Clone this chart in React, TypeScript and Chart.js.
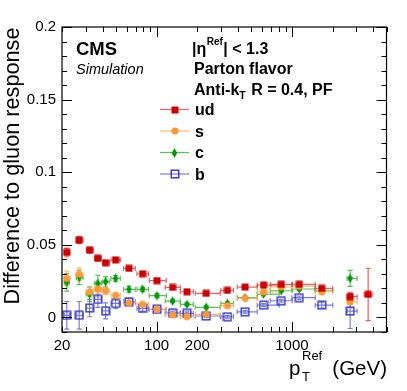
import React, { useEffect, useRef } from "react";
import { Chart, registerables } from "chart.js";
Chart.register(...registerables);

// ---------- data ----------
const pT = [21.7, 26.8, 32.0, 36.8, 42.0, 49.8, 62.5, 78.8, 100.7, 131.3, 167.6, 232.6, 334, 451, 617, 834, 1132, 1660, 2692, 3658];
const pTLow = [20.8, 25.5, 30.2, 34.8, 39.7, 46.0, 57.0, 71.6, 88.3, 115.8, 149.6, 193, 298.6, 394, 554, 692, 1000, 1486, 2560, 3418];
const pTHigh = [22.7, 28.6, 33.9, 39.0, 44.7, 53.9, 69.6, 87.2, 117.8, 149.6, 186.7, 295, 370, 554, 805, 1005, 1486, 2003, 3033, 3918];

const udValues = [0.0448, 0.0533, 0.0464, 0.0407, 0.0377, 0.0397, 0.0338, 0.0301, 0.0254, 0.0207, 0.0177, 0.0166, 0.0187, 0.0209, 0.0223, 0.0228, 0.0228, 0.0200, 0.0143, 0.0159];
const udErrors = [0.003, 0.0025, 0.002, 0.0015, 0.0015, 0.0012, 0.001, 0.001, 0.001, 0.001, 0.001, 0.001, 0.001, 0.001, 0.001, 0.001, 0.001, 0.0015, 0.003, 0.018];

const sValues = [0.0269, 0.0297, 0.0177, 0.0196, 0.0184, 0.0152, 0.0100, 0.0090, 0.0056, 0.0017, 0.0005, 0.0021, 0.0081, 0.0132, 0.0177, 0.0211, 0.0216, 0.0177, 0.0108];
const sErrors = [0.005, 0.0045, 0.003, 0.003, 0.0025, 0.002, 0.0015, 0.0012, 0.001, 0.001, 0.001, 0.001, 0.001, 0.001, 0.001, 0.001, 0.001, 0.0015, 0.002];

const cValues = [0.0242, 0.0276, 0.0161, 0.0235, 0.0246, 0.0269, 0.0194, 0.0194, 0.0150, 0.0113, 0.0090, 0.0070, 0.0097, 0.0136, 0.0161, 0.0184, 0.0196, 0.0184, 0.0269];
const cErrors = [0.006, 0.005, 0.005, 0.0055, 0.0035, 0.002, 0.002, 0.0015, 0.0012, 0.001, 0.001, 0.001, 0.001, 0.001, 0.001, 0.001, 0.001, 0.0015, 0.0055];

const bValues = [0.0015, 0.0015, 0.0065, 0.0125, 0.0046, 0.0097, 0.0108, 0.0062, 0.0056, 0.0032, 0.0028, 0.0010, 0.0005, 0.0039, 0.0085, 0.0115, 0.0136, 0.0085, 0.0044];
const bErrors = [0.0095, 0.0095, 0.006, 0.0055, 0.0055, 0.0035, 0.0025, 0.002, 0.0015, 0.0012, 0.001, 0.001, 0.001, 0.001, 0.001, 0.001, 0.0012, 0.002, 0.012];

const seriesNames = ["ud", "s", "c", "b"];
const xTickValues = [20, 30, 40, 50, 60, 70, 80, 90, 100, 200, 300, 400, 500, 600, 700, 800, 900, 1000, 2000, 3000, 4000, 5000];
const xTickLabels = [20, 100, 200, 1000];
const xMajor = [100, 1000];
const yTickValues = [0, 0.05, 0.1, 0.15, 0.2];
const yTickLabels = ["0", "0.05", "0.1", "0.15", "0.2"];

const FONT = '"Liberation Sans", Arial, Helvetica, sans-serif';

type Kind = "square" | "circle" | "diamond" | "open";

function makeMarker(kind: Kind, color: string): HTMLCanvasElement {
  const c = document.createElement("canvas");
  const w = kind === "diamond" ? 7 : kind === "open" ? 10 : 8;
  const h = kind === "diamond" ? 10 : kind === "open" ? 10 : 8;
  c.width = w;
  c.height = h;
  const g = c.getContext("2d")!;
  g.fillStyle = color;
  g.strokeStyle = color;
  if (kind === "square") {
    g.fillRect(0.5, 0.5, 7, 7);
  } else if (kind === "circle") {
    g.beginPath();
    g.arc(4, 4, 3.6, 0, Math.PI * 2);
    g.fill();
  } else if (kind === "diamond") {
    g.beginPath();
    g.moveTo(3.5, 0.3);
    g.lineTo(6.3, 5);
    g.lineTo(3.5, 9.7);
    g.lineTo(0.7, 5);
    g.closePath();
    g.fill();
  } else {
    g.lineWidth = 1.4;
    g.strokeRect(1.2, 1.2, 7.6, 7.6);
  }
  return c;
}

const styles = [
  { kind: "square" as Kind, marker: "#cc0000", line: "rgba(222,60,60,0.8)" },
  { kind: "circle" as Kind, marker: "#ff9933", line: "rgba(255,170,80,0.8)" },
  { kind: "diamond" as Kind, marker: "#009900", line: "rgba(50,175,50,0.8)" },
  { kind: "open" as Kind, marker: "#3333cc", line: "rgba(90,90,225,0.8)" },
];

export default function App() {
  const ref = useRef<HTMLCanvasElement | null>(null);

  useEffect(() => {
    const canvas = ref.current!;
    const allValues = [udValues, sValues, cValues, bValues];
    const allErrors = [udErrors, sErrors, cErrors, bErrors];
    const markers = styles.map((s) => makeMarker(s.kind, s.marker));

    const datasets = allValues.map((vals, k) => ({
      label: seriesNames[k],
      data: vals.map((v, i) => ({ x: pT[i], y: v })),
      pointStyle: markers[k],
      pointRadius: 4,
      showLine: false,
      order: k,
      backgroundColor: styles[k].marker,
      borderColor: styles[k].marker,
    }));

    const rootPlugin = {
      id: "rootStyle",
      beforeDatasetsDraw(chart: any) {
        const ctx = chart.ctx as CanvasRenderingContext2D;
        const xs = chart.scales.x;
        const ys = chart.scales.y;
        const ca = chart.chartArea;
        ctx.save();
        ctx.beginPath();
        ctx.rect(ca.left, ca.top, ca.right - ca.left, ca.bottom - ca.top);
        ctx.clip();
        ctx.lineWidth = 1.2;
        for (let k = allValues.length - 1; k >= 0; k--) {
          const vals = allValues[k];
          const errs = allErrors[k];
          ctx.strokeStyle = styles[k].line;
          for (let i = 0; i < vals.length; i++) {
            const x = xs.getPixelForValue(pT[i]);
            const y = ys.getPixelForValue(vals[i]);
            const xl = xs.getPixelForValue(pTLow[i]);
            const xh = xs.getPixelForValue(pTHigh[i]);
            const yl = ys.getPixelForValue(vals[i] - errs[i]);
            const yh = ys.getPixelForValue(vals[i] + errs[i]);
            ctx.beginPath();
            ctx.moveTo(xl, y);
            ctx.lineTo(xh, y);
            ctx.moveTo(xl, y - 2.5);
            ctx.lineTo(xl, y + 2.5);
            ctx.moveTo(xh, y - 2.5);
            ctx.lineTo(xh, y + 2.5);
            ctx.moveTo(x, yl);
            ctx.lineTo(x, yh);
            ctx.moveTo(x - 2.5, yl);
            ctx.lineTo(x + 2.5, yl);
            ctx.moveTo(x - 2.5, yh);
            ctx.lineTo(x + 2.5, yh);
            ctx.stroke();
          }
        }
        ctx.restore();
      },
      afterDraw(chart: any) {
        const ctx = chart.ctx as CanvasRenderingContext2D;
        const xs = chart.scales.x;
        const ys = chart.scales.y;
        const ca = chart.chartArea;
        ctx.save();
        // frame
        ctx.strokeStyle = "#000";
        ctx.lineWidth = 1.2;
        ctx.strokeRect(ca.left, ca.top, ca.right - ca.left, ca.bottom - ca.top);
        // x ticks (bottom and top, inward)
        ctx.lineWidth = 1;
        ctx.beginPath();
        for (const v of xTickValues) {
          const x = Math.round(xs.getPixelForValue(v)) + 0.5;
          const len = xMajor.includes(v) ? 10 : 5;
          ctx.moveTo(x, ca.bottom);
          ctx.lineTo(x, ca.bottom - len);
          ctx.moveTo(x, ca.top);
          ctx.lineTo(x, ca.top + len);
        }
        // y ticks (left and right, inward)
        for (let j = -1; j <= 20; j++) {
          const v = j / 100;
          const y = Math.round(ys.getPixelForValue(v)) + 0.5;
          const len = j % 5 === 0 ? 10 : 5;
          ctx.moveTo(ca.left, y);
          ctx.lineTo(ca.left + len, y);
          ctx.moveTo(ca.right, y);
          ctx.lineTo(ca.right - len, y);
        }
        ctx.stroke();

        ctx.fillStyle = "#000";
        ctx.textAlign = "left";
        ctx.textBaseline = "alphabetic";
        // CMS label
        ctx.font = `bold 18.5px ${FONT}`;
        ctx.fillText("CMS", 76, 55);
        ctx.font = `italic 14.5px ${FONT}`;
        ctx.fillText("Simulation", 76, 73.5);

        // right block
        const bx = 192;
        ctx.font = `bold 16px ${FONT}`;
        let x = bx;
        ctx.fillText("|\u03b7", x, 53.5);
        x += ctx.measureText("|\u03b7").width + 0.5;
        ctx.font = `bold 10px ${FONT}`;
        ctx.fillText("Ref", x, 45);
        x += ctx.measureText("Ref").width + 0.5;
        ctx.font = `bold 16px ${FONT}`;
        ctx.fillText("| < 1.3", x, 53.5);

        ctx.fillText("Parton flavor", bx + 2, 74);
        x = bx + 2;
        ctx.fillText("Anti-k", x, 94.5);
        x += ctx.measureText("Anti-k").width;
        ctx.font = `bold 10.5px ${FONT}`;
        ctx.fillText("T", x, 98.5);
        x += ctx.measureText("T").width + 1;
        ctx.font = `bold 16px ${FONT}`;
        ctx.fillText(" R = 0.4, PF", x, 94.5);

        // legend
        const legY = [109.5, 131, 152.5, 174];
        for (let k = 0; k < 4; k++) {
          const ly = legY[k];
          ctx.strokeStyle = styles[k].line;
          ctx.lineWidth = 1.2;
          ctx.beginPath();
          ctx.moveTo(160, ly);
          ctx.lineTo(189, ly);
          ctx.stroke();
          const m = markers[k];
          ctx.drawImage(m, Math.round(174.5 - m.width / 2), Math.round(ly - m.height / 2));
          ctx.fillStyle = "#000";
          ctx.font = `bold 16px ${FONT}`;
          ctx.fillText(seriesNames[k], 195, ly + 5.5);
        }

        // x title
        ctx.font = `20.5px ${FONT}`;
        ctx.fillText("p", 289, 375);
        ctx.font = `13px ${FONT}`;
        ctx.fillText("T", 302, 381);
        ctx.fillText("Ref", 302, 360);
        ctx.font = `20.5px ${FONT}`;
        ctx.textAlign = "right";
        ctx.fillText("(GeV)", 387, 375);

        // y title
        ctx.translate(18.5, 27.5);
        ctx.rotate(-Math.PI / 2);
        ctx.textAlign = "right";
        ctx.font = `21.7px ${FONT}`;
        ctx.fillText("Difference to gluon response", 0, 0);
        ctx.restore();
      },
    };

    const chart = new Chart(canvas, {
      type: "scatter",
      data: { datasets },
      options: {
        animation: false,
        responsive: false,
        devicePixelRatio: 1,
        layout: { padding: { left: 0, right: 20.5, top: 27, bottom: 0 } },
        plugins: { legend: { display: false }, tooltip: { enabled: false } },
        scales: {
          x: {
            type: "logarithmic",
            min: 20,
            max: 5000,
            grid: { display: false, drawTicks: false },
            border: { display: false },
            afterBuildTicks: (s: any) => {
              s.ticks = xTickValues.map((v) => ({ value: v }));
            },
            afterFit: (s: any) => {
              s.height = 59;
            },
            ticks: {
              autoSkip: false,
              maxRotation: 0,
              minRotation: 0,
              padding: 5,
              color: "#000",
              font: { family: FONT, size: 15 },
              callback: (v: any) => {
                const r = Math.round(Number(v));
                return xTickLabels.includes(r) ? String(r) : "";
              },
            },
          },
          y: {
            type: "linear",
            min: -0.01,
            max: 0.2,
            grid: { display: false, drawTicks: false },
            border: { display: false },
            afterBuildTicks: (s: any) => {
              s.ticks = yTickValues.map((v) => ({ value: v }));
            },
            afterFit: (s: any) => {
              s.width = 62;
            },
            ticks: {
              padding: 6,
              color: "#000",
              font: { family: FONT, size: 15 },
              callback: (v: any) => {
                const idx = yTickValues.findIndex((t) => Math.abs(t - Number(v)) < 1e-9);
                return idx >= 0 ? yTickLabels[idx] : "";
              },
            },
          },
        },
      },
      plugins: [rootPlugin],
    } as any);

    return () => chart.destroy();
  }, []);

  return (
    <div style={{ position: "fixed", left: 0, top: 0, width: 407, height: 391, background: "#fff" }}>
      <canvas ref={ref} width={407} height={391} style={{ display: "block", width: 407, height: 391 }} />
    </div>
  );
}
